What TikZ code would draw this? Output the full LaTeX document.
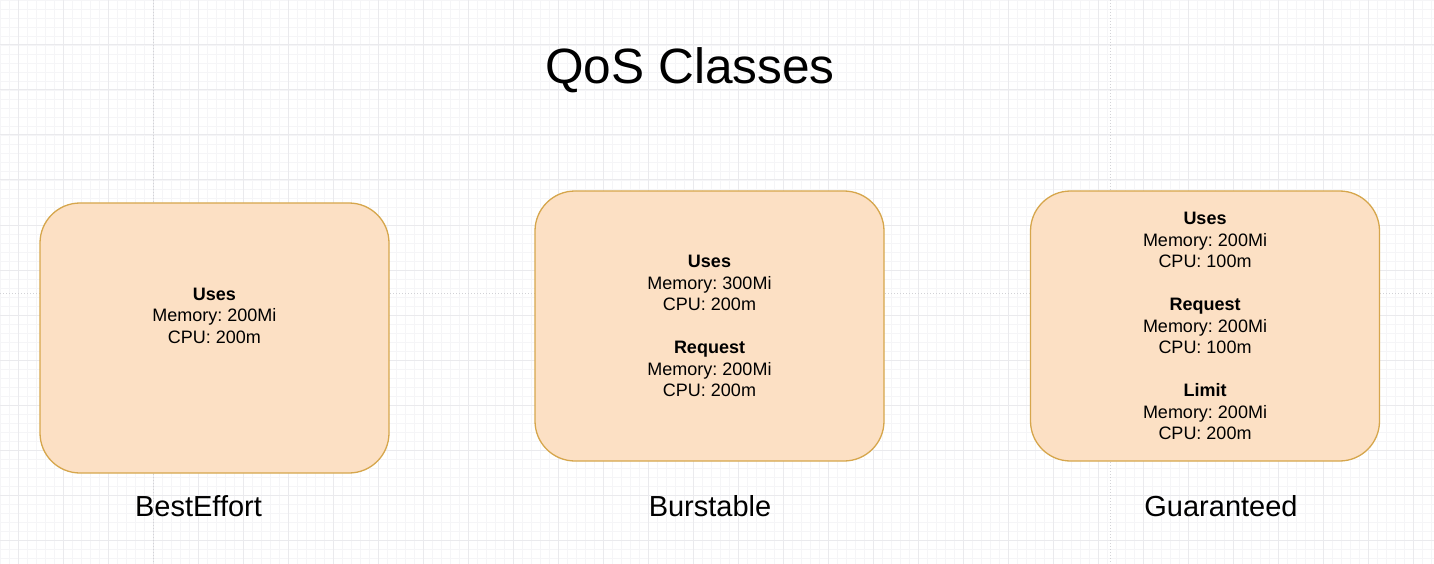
\documentclass[tikz,border=0pt]{standalone}
\usepackage{fontspec}
\setmainfont{Liberation Sans}
\frenchspacing
\definecolor{boxfill}{HTML}{FCE0C4}
\definecolor{boxline}{HTML}{D6A64C}
\definecolor{gridminor}{HTML}{F5F5F7}
\definecolor{gridmajor}{HTML}{EAEAED}
\definecolor{pageline}{HTML}{D2D2D6}
\tikzset{
  qosbox/.style={draw=boxline, line width=1.3pt, fill=boxfill, rounded corners=40pt,
    minimum width=349pt, minimum height=270pt, inner sep=0pt},
  boxtext/.style={align=center, inner sep=0pt, font=\fontsize{18}{21.5}\selectfont},
  classlabel/.style={anchor=base, inner sep=0pt, font=\fontsize{29}{33}\selectfont},
  titletext/.style={anchor=base, inner sep=0pt, font=\fontsize{49.6}{55}\selectfont}
}
\begin{document}
\begin{tikzpicture}[x=1pt,y=-1pt]
\useasboundingbox (0,0) rectangle (1434,564);
\fill[white] (0,0) rectangle (1434,564);
% grid
\foreach \i in {0,...,159} \draw[gridminor, line width=0.8pt] ({0.3+9*\i},0) -- ({0.3+9*\i},564);
\foreach \i in {0,...,62} \draw[gridminor, line width=0.8pt] (0,{9*\i}) -- (1434,{9*\i});
\foreach \i in {0,...,31} \draw[gridmajor, line width=1pt] ({18.3+45*\i},0) -- ({18.3+45*\i},564);
\foreach \i in {0,...,12} \draw[gridmajor, line width=1pt] (0,{45*\i}) -- (1434,{45*\i});
% page break lines
\draw[pageline, dotted, line width=1pt] (153.3,0) -- (153.3,564);
\draw[pageline, dotted, line width=1pt] (1110,0) -- (1110,564);
\draw[pageline, dotted, line width=1pt] (0,293) -- (1434,293);

% title
\node[titletext] (title) at (690,84) {QoS Classes};

% boxes
\node[qosbox] (best) at (214.5,338) {};
\node[qosbox] (burst) at (709.5,326) {};
\node[qosbox] (guar) at (1205,326) {};

\node[boxtext] (besttxt) at (214.5,315.5) {\textbf{Uses}\\Memory: 200Mi\\CPU: 200m};
\node[boxtext] (bursttxt) at (709.5,326) {\textbf{Uses}\\Memory: 300Mi\\CPU: 200m\\[21.5pt]\textbf{Request}\\Memory: 200Mi\\CPU: 200m};
\node[boxtext] (guartxt) at (1205,326) {\textbf{Uses}\\Memory: 200Mi\\CPU: 100m\\[21.5pt]\textbf{Request}\\Memory: 200Mi\\CPU: 100m\\[21.5pt]\textbf{Limit}\\Memory: 200Mi\\CPU: 200m};

% labels
\node[classlabel] (bestlbl) at (198.5,516) {BestEffort};
\node[classlabel] (burstlbl) at (710,516) {Burstable};
\node[classlabel] (guarlbl) at (1221,516) {Guaranteed};
\end{tikzpicture}
\end{document}
